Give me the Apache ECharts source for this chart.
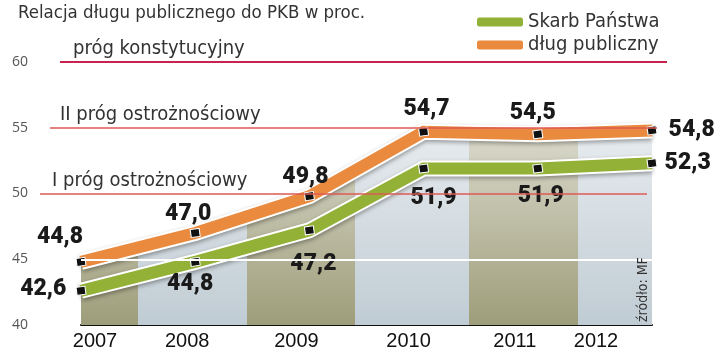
<!DOCTYPE html>
<html><head><meta charset="utf-8">
<script src="https://cdn.jsdelivr.net/npm/echarts@6/dist/echarts.min.js"></script>
<style>html,body{margin:0;padding:0;background:#fff}#c{width:720px;height:357px}</style>
</head><body><div id="c"></div>
<script>
// ---- data ----
const years = ['2007', '2008', '2009', '2010', '2011', '2012'];
const publicDebt = [44.8, 47.0, 49.8, 54.7, 54.5, 54.8];      // dług publiczny
const treasuryDebt = [42.6, 44.8, 47.2, 51.9, 51.9, 52.3];    // Skarb Państwa
const yTicks = [40, 45, 50, 55, 60];
const thresholdValues = [60, 55, 50];
const thresholdNames = ['próg konstytucyjny', 'II próg ostrożnościowy', 'I próg ostrożnościowy'];
const seriesNames = ['Skarb Państwa', 'dług publiczny'];
const titleText = 'Relacja długu publicznego do PKB w proc.';
const sourceText = 'źródło: MF';
const gridLineValue = 45;

// ---- styles ----
const NARROW = "'Liberation Sans Narrow','DejaVu Sans Condensed',sans-serif";
const ORANGE = '#e98a3f', GREEN = '#93b136';
const orangeLabelPos = ['top', 'top', 'top', 'top', 'top', 'right'];
const orangeLabelOff = [[-21, -3], [-7, 3], [-4, 3], [3, -1], [-5, 1], [6, 0]];
const greenLabelPos = ['left', 'bottom', 'bottom', 'bottom', 'bottom', 'right'];
const greenLabelOff = [[-4, -2], [-5, 1], [4, 12], [10, 8], [3, 6], [2, 0]];
const xLabelShift = [14, -8, -13, -15, -23, -56];
const thresholdStyle = [
  {left: 60, right: 53, color: '#c8234f', width: 2, labelOff: [10, 0]},
  {left: 50, right: 63, color: '#de5a55', width: 1.5, labelOff: [7, 0]},
  {left: 40, right: 73, color: '#de5a55', width: 1.5, labelOff: [9, 0]}
];

const fmt = v => v.toFixed(1).replace('.', ',');
const valueLabel = {
  show: true, fontFamily: 'Roboto', fontWeight: 900, fontSize: 23,
  color: '#1a1a1a', distance: 5, formatter: p => fmt(p.value)
};
function pointData(values, pos, off) {
  return values.map((v, i) => ({
    value: v,
    label: Object.assign({}, valueLabel, {position: pos[i], offset: off[i]})
  }));
}

const rich = {};
xLabelShift.forEach((dx, i) => {
  rich['s' + i] = {
    fontFamily: "'Liberation Sans',sans-serif", fontSize: 20, color: '#111',
    padding: dx > 0 ? [0, 0, 0, 2 * dx] : [0, -2 * dx, 0, 0]
  };
});

const MAIN = {left: 81, right: 68, top: 62, bottom: 32};

const grids = [MAIN].concat(thresholdStyle.map(t => ({left: t.left, right: t.right, top: 62, bottom: 32})));
const xAxes = [{
  type: 'category', data: years, boundaryGap: false, gridIndex: 0,
  axisLine: {lineStyle: {color: '#111', width: 2}}, axisTick: {show: false},
  axisLabel: {margin: 6, formatter: (v, i) => '{s' + i + '|' + v + '}', rich: rich},
  splitLine: {show: false}
}].concat(thresholdStyle.map((t, i) => ({type: 'value', min: 0, max: 1, show: false, gridIndex: i + 1})));
const yAxes = [{
  type: 'value', min: yTicks[0], max: yTicks[yTicks.length - 1], interval: yTicks[1] - yTicks[0], gridIndex: 0,
  axisLine: {show: false}, axisTick: {show: false}, splitLine: {show: false},
  axisLabel: {margin: 53, color: '#555', fontSize: 14, fontFamily: "'Open Sans',sans-serif"}
}].concat(thresholdStyle.map((t, i) => ({type: 'value', min: yTicks[0], max: yTicks[yTicks.length - 1], show: false, gridIndex: i + 1})));

const olive = '#9e9d7a', blue = '#c0ccd4';
const bands = [0.1, 0.29, 0.48, 0.68, 0.87];
const stops = [];
let cols = [olive, blue];
let prev = 0;
bands.concat([1]).forEach((b, i) => {
  const c = cols[i % 2];
  stops.push({offset: prev, color: c}, {offset: b, color: c});
  prev = b;
});

const series = [
  {
    name: 'panel', type: 'line', data: publicDebt, symbol: 'none', z: 1, silent: true,
    lineStyle: {width: 0}, areaStyle: {opacity: 1, color: {type: 'linear', x: 0, y: 0, x2: 1, y2: 0, colorStops: stops}}
  },
  {
    name: 'panelShade', type: 'line', data: publicDebt, symbol: 'none', z: 1, silent: true,
    lineStyle: {width: 0},
    areaStyle: {opacity: 1, color: {type: 'linear', x: 0, y: 0, x2: 0, y2: 1, colorStops: [
      {offset: 0, color: 'rgba(255,255,255,0.62)'}, {offset: 1, color: 'rgba(255,255,255,0)'}]}},
    markLine: {silent: true, symbol: 'none', label: {show: false}, lineStyle: {color: '#fff', width: 2, type: 'solid'},
      data: [{yAxis: gridLineValue}]}
  }
];
thresholdValues.forEach((v, i) => {
  const t = thresholdStyle[i];
  series.push({
    name: 'thr' + i, type: 'line', data: [], xAxisIndex: i + 1, yAxisIndex: i + 1, z: 2, silent: true,
    markLine: {
      silent: true, symbol: 'none',
      lineStyle: {color: t.color, width: t.width, type: 'solid'},
      label: {show: true, position: 'insideStartTop', formatter: thresholdNames[i], distance: 3,
        offset: t.labelOff, color: '#333', fontSize: 20, fontFamily: NARROW},
      data: [{yAxis: v}]
    }
  });
});
const halo = {
  type: 'line', symbol: 'none', z: 3, silent: true,
  lineStyle: {width: 16, color: '#fff', join: 'miter', cap: 'butt',
    shadowColor: 'rgba(0,0,0,0.35)', shadowBlur: 4, shadowOffsetY: 2}
};
series.push(Object.assign({}, halo, {name: 'haloO', data: publicDebt}));
series.push(Object.assign({}, halo, {name: 'haloG', data: treasuryDebt}));
const mainLine = (name, vals, color, pos, off) => ({
  name: name, type: 'line', z: 4, data: pointData(vals, pos, off),
  symbol: 'rect', symbolSize: [9, 8], symbolRotate: 8, showAllSymbol: true,
  lineStyle: {width: 12, color: color, join: 'miter', cap: 'butt'},
  itemStyle: {color: '#111', borderColor: '#fff', borderWidth: 1}
});
series.push(mainLine(seriesNames[1], publicDebt, ORANGE, orangeLabelPos, orangeLabelOff));
series.push(mainLine(seriesNames[0], treasuryDebt, GREEN, greenLabelPos, greenLabelOff));

const chart = echarts.init(document.getElementById('c'), null, {renderer: 'canvas'});
chart.setOption({
  animation: false,
  backgroundColor: '#fff',
  grid: grids, xAxis: xAxes, yAxis: yAxes,
  legend: {
    orient: 'vertical', left: 477, top: 12, itemWidth: 46, itemHeight: 9, itemGap: 3, padding: 0,
    icon: 'roundRect', selectedMode: false,
    textStyle: {fontSize: 20, fontFamily: NARROW, color: '#333'},
    data: [
      {name: seriesNames[0], itemStyle: {color: GREEN, borderWidth: 0}},
      {name: seriesNames[1], itemStyle: {color: ORANGE, borderWidth: 0}}
    ]
  },
  graphic: [
    {type: 'text', left: 18, top: 4, z: 100, style: {text: titleText, fontSize: 18.5, fontFamily: NARROW, fill: '#333'}},
    {type: 'text', x: 636, y: 322, z: 100, rotation: Math.PI / 2, style: {text: sourceText, fontSize: 14, fontFamily: NARROW, fill: '#333'}}
  ],
  series: series
});
</script>
</body></html>
